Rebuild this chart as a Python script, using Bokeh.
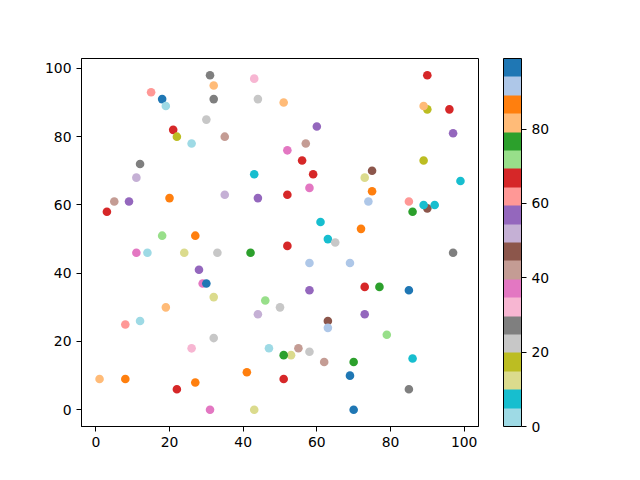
from bokeh.plotting import figure
from bokeh.models import ColumnDataSource, LinearColorMapper, ColorBar, FixedTicker, Range1d, LinearAxis
from bokeh.palettes import Category20
from bokeh.embed import file_html
from bokeh.resources import INLINE

# colour bins (tab20 reversed), value = bin centre on a 0..99 scale
palette = list(reversed(Category20[20]))

x = [31, 32, 43, 15, 18, 19, 32, 44, 51, 30, 21, 22, 26, 35, 12, 11, 43, 5, 9, 3,
     20, 35, 44, 18, 27,
     90, 90, 89, 96, 60, 97, 57, 52, 56, 59, 58, 52, 75, 73, 75, 74, 89, 99, 85, 90,
     89, 92, 86, 61, 72, 63, 65, 52,
     11, 14, 24, 33, 42, 28, 29, 30, 32, 46, 44, 50, 19, 12, 8, 32, 26, 47, 53, 51,
     1, 8, 41, 27, 22, 31, 43, 51,
     97, 58, 69, 58, 73, 77, 85, 73, 63, 63, 79, 55, 58, 62, 70, 86, 69, 85, 70]
y = [98, 95, 97, 93, 91, 89, 91, 91, 90, 85, 82, 80, 78, 80, 72, 68, 69, 61, 61, 58,
     62, 63, 62, 51, 51,
     98, 88, 89, 88, 83, 81, 78, 76, 73, 69, 65, 63, 70, 68, 64, 61, 73, 67, 61, 59,
     60, 60, 58, 55, 53, 50, 49, 48,
     46, 46, 46, 46, 46, 41, 37, 37, 33, 32, 28, 30, 30, 26, 25, 21, 18, 18, 16, 16,
     9, 9, 11, 8, 6, 0, 0, 9,
     46, 43, 43, 35, 36, 36, 35, 28, 26, 24, 22, 18, 17, 14, 14, 15, 10, 6, 0]
c = [27, 82, 32, 62, 97, 2, 27, 22, 82, 22, 67, 17, 2, 42, 27, 52, 7, 42, 57, 67,
     87, 52, 57, 72, 87,
     67, 17, 82, 67, 57, 57, 42, 37, 67, 67, 37, 67, 47, 12, 87, 92, 17, 7, 62, 47,
     7, 7, 77, 7, 87, 7, 22, 67,
     37, 0, 12, 22, 77, 57, 37, 97, 12, 72, 52, 22, 82, 2, 62, 22, 32, 2, 12, 77,
     82, 87, 87, 87, 67, 37, 12, 67,
     27, 92, 92, 57, 67, 77, 99, 57, 47, 92, 72, 42, 22, 42, 77, 7, 97, 27, 97]

src = ColumnDataSource(dict(x=x, y=y, c=c))
mapper = LinearColorMapper(palette=palette, low=0, high=99)

FONT = "DejaVu Sans"
FS = "13.9px"

p = figure(width=624, height=464, output_backend="svg", toolbar_location=None,
           x_range=Range1d(-3.9, 103.9), y_range=Range1d(-4.9, 102.9),
           min_border_left=81, min_border_top=58, min_border_bottom=38,
           min_border_right=146)
p.scatter("x", "y", source=src, size=8.6, marker="circle",
          fill_color={"field": "c", "transform": mapper}, line_color=None)

p.grid.visible = False
p.outline_line_color = "black"
p.outline_line_alpha = 1
p.outline_line_width = 1
for ax in (p.xaxis[0], p.yaxis[0]):
    ax.ticker = FixedTicker(ticks=[0, 20, 40, 60, 80, 100])
    ax.major_tick_in = 0
    ax.major_tick_out = 5
    ax.minor_tick_line_color = None
    ax.axis_line_color = "black"
    ax.major_tick_line_color = "black"
    ax.major_label_text_font = FONT
    ax.major_label_text_font_size = FS
    ax.major_label_text_color = "black"
    ax.major_label_standoff = 5

# invisible spacer between frame and colour bar
spacer = LinearAxis(ticker=FixedTicker(ticks=[50]), major_label_overrides={50: ""},
                    major_tick_out=25, major_tick_in=0,
                    axis_line_alpha=0, major_tick_line_alpha=0,
                    minor_tick_line_alpha=0, major_label_standoff=0,
                    major_label_text_font_size="1px")
p.add_layout(spacer, "right")

cb = ColorBar(color_mapper=mapper, ticker=FixedTicker(ticks=[0, 20, 40, 60, 80]),
              width=18, height=368, padding=0, margin=0,
              bar_line_color="black", bar_line_width=1,
              major_tick_in=0, major_tick_out=5, major_tick_line_color="black",
              minor_tick_line_color=None, label_standoff=5,
              major_label_text_font=FONT, major_label_text_font_size=FS,
              major_label_text_color="black", background_fill_alpha=0)
p.add_layout(cb, "right")

open("out.html", "w").write(file_html(p, INLINE))
